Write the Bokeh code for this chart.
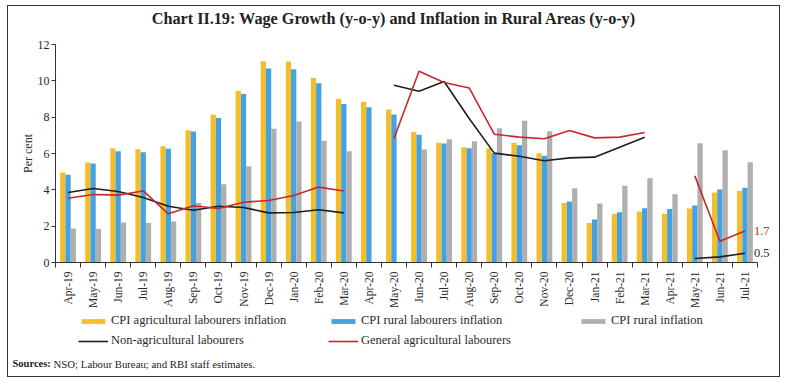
import numpy as np
from bokeh.plotting import figure
from bokeh.models import (Range1d, FixedTicker, ColumnDataSource, Legend, LegendItem, Label)
from bokeh.transform import dodge
from bokeh.embed import file_html
from bokeh.resources import INLINE

nan = np.nan
months = ["Apr-19", "May-19", "Jun-19", "Jul-19", "Aug-19", "Sep-19", "Oct-19", "Nov-19",
          "Dec-19", "Jan-20", "Feb-20", "Mar-20", "Apr-20", "May-20", "Jun-20", "Jul-20",
          "Aug-20", "Sep-20", "Oct-20", "Nov-20", "Dec-20", "Jan-21", "Feb-21", "Mar-21",
          "Apr-21", "May-21", "Jun-21", "Jul-21"]
cpi_agri_lab = [4.95, 5.50, 6.29, 6.24, 6.40, 7.28, 8.13, 9.45, 11.08, 11.06, 10.15, 9.01,
                8.83, 8.42, 7.19, 6.59, 6.35, 6.29, 6.59, 6.02, 3.27, 2.18, 2.68, 2.81,
                2.68, 2.97, 3.85, 3.93]
cpi_rural_lab = [4.83, 5.45, 6.13, 6.07, 6.26, 7.21, 7.96, 9.27, 10.68, 10.64, 9.87, 8.72,
                 8.55, 8.15, 7.03, 6.55, 6.29, 6.02, 6.46, 5.87, 3.36, 2.37, 2.77, 2.99,
                 2.95, 3.14, 4.02, 4.11]
cpi_rural = [1.87, 1.85, 2.20, 2.18, 2.26, 3.27, 4.31, 5.30, 7.36, 7.76, 6.70, 6.13,
             nan, nan, 6.22, 6.79, 6.68, 7.39, 7.80, 7.23, 4.09, 3.25, 4.22, 4.64,
             3.76, 6.57, 6.18, 5.52]
non_agri = [3.85, 4.07, 3.91, 3.58, 3.10, 2.88, 3.10, 3.03, 2.73, 2.75, 2.90, 2.73,
            nan, 9.76, 9.43, 9.96, 7.93, 6.02, 5.85, 5.60, 5.76, 5.80, 6.35, 6.90,
            nan, 0.22, 0.31, 0.51]
gen_agri = [3.54, 3.74, 3.71, 3.94, 2.68, 3.12, 2.97, 3.32, 3.41, 3.69, 4.15, 3.94,
            nan, 6.83, 10.53, 9.91, 9.61, 7.06, 6.90, 6.81, 7.27, 6.86, 6.90, 7.16,
            nan, 4.77, 1.17, 1.74]
y_ticks = [0, 2, 4, 6, 8, 10, 12]

YEL, BLU, GRY, RED, BLK = "#F4BE2B", "#45A2E2", "#AFAFAF", "#C8282C", "#1E1E1E"
FONT = "Liberation Serif"
TXT = "#2a2a2a"

N = len(months)
xs = [i + 0.5 for i in range(N)]
src = ColumnDataSource(dict(x=xs, al=cpi_agri_lab, rl=cpi_rural_lab, ru=cpi_rural,
                            na=non_agri, ga=gen_agri))

# layout geometry (pixels inside the bordered canvas)
W, H = 773, 372
PX_L, PX_R = 47, 749          # x = 0 and x = N
PY_T, PY_B = 38, 256          # y = 12 and y = 0 (from top)
sx = (PX_R - PX_L) / N
sy = (PY_B - PY_T) / 12.0
x_rng = Range1d(-PX_L / sx, N + (W - PX_R) / sx)
y_rng = Range1d(-(H - PY_B) / sy, 12 + PY_T / sy)

p = figure(width=W, height=H, x_range=x_rng, y_range=y_rng,
           output_backend="svg", toolbar_location=None, min_border=0)
p.styles = {"border": "1px solid #333", "margin": "5px 0 0 7px"}
p.title.visible = False
p.outline_line_color = None
p.xgrid.grid_line_color = None
p.ygrid.grid_line_color = None

bw = 0.21
r1 = p.vbar(x=dodge("x", -bw, range=p.x_range), top="al", width=bw, source=src,
            fill_color=YEL, line_color=None)
r2 = p.vbar(x="x", top="rl", width=bw, source=src, fill_color=BLU, line_color=None)
r3 = p.vbar(x=dodge("x", bw, range=p.x_range), top="ru", width=bw, source=src,
            fill_color=GRY, line_color=None)
r4 = p.line(x="x", y="na", source=src, line_color=BLK, line_width=1.6)
r5 = p.line(x="x", y="ga", source=src, line_color=RED, line_width=1.6)

xa = p.xaxis[0]
xa.fixed_location = 0
xa.bounds = (0, N)
xa.ticker = FixedTicker(ticks=xs, minor_ticks=list(range(N + 1)))
xa.major_label_overrides = {x: m for x, m in zip(xs, months)}
xa.major_label_orientation = np.pi / 2
xa.major_tick_out = 0
xa.major_tick_in = 0
xa.minor_tick_out = 5
xa.minor_tick_in = 0
xa.minor_tick_line_color = "#333"
xa.axis_line_color = "#333"
xa.major_label_text_font = FONT
xa.major_label_text_font_size = "11.5px"
xa.major_label_text_color = TXT
xa.major_label_standoff = 4

ya = p.yaxis[0]
ya.fixed_location = 0
ya.bounds = (0, 12)
ya.ticker = FixedTicker(ticks=y_ticks, minor_ticks=[])
ya.major_tick_out = 4
ya.major_tick_in = 0
ya.major_tick_line_color = "#333"
ya.axis_line_color = "#333"
ya.major_label_text_font = FONT
ya.major_label_text_font_size = "12px"
ya.major_label_text_color = TXT
ya.major_label_standoff = 2
ya.axis_label = "Per cent"
ya.axis_label_text_font = FONT
ya.axis_label_text_font_size = "12px"
ya.axis_label_text_font_style = "normal"
ya.axis_label_text_color = TXT
ya.axis_label_standoff = 0

# end-point data labels
p.add_layout(Label(x=xs[-1], y=gen_agri[-1], x_offset=9, text=f"{gen_agri[-1]:.1f}",
                   text_color=RED, text_font=FONT, text_font_size="12.5px",
                   text_baseline="middle"))
p.add_layout(Label(x=xs[-1], y=non_agri[-1], x_offset=9, text=f"{non_agri[-1]:.1f}",
                   text_color=TXT, text_font=FONT, text_font_size="12.5px",
                   text_baseline="middle"))

# title
p.add_layout(Label(x=385.5, y=H - 12, x_units="screen", y_units="screen",
                   text="Chart II.19: Wage Growth (y-o-y) and Inflation in Rural Areas (y-o-y)",
                   text_align="center", text_baseline="middle", text_font=FONT,
                   text_font_size="16.2px", text_font_style="bold", text_color="#222"))

legend = Legend(items=[
    LegendItem(label="CPI agricultural labourers inflation", renderers=[r1]),
    LegendItem(label="CPI rural labourers inflation", renderers=[r2]),
    LegendItem(label="CPI rural inflation", renderers=[r3]),
    LegendItem(label="Non-agricultural labourers", renderers=[r4]),
    LegendItem(label="General agricultural labourers", renderers=[r5]),
], location=(70, 30), orientation="horizontal", ncols=3)
legend.padding = 0
legend.margin = 0
legend.border_line_color = None
legend.background_fill_alpha = 0
legend.glyph_width = 30
legend.glyph_height = 6
legend.label_standoff = 3
legend.spacing = 5
legend.label_width = 212
legend.label_text_font = FONT
legend.label_text_font_size = "12.5px"
legend.label_text_color = TXT
p.add_layout(legend, "center")

# sources
p.add_layout(Label(x=4, y=15, x_units="screen", y_units="screen", text="Sources:",
                   text_baseline="middle", text_font=FONT, text_font_size="10.5px",
                   text_font_style="bold", text_color="#222"))
p.add_layout(Label(x=45, y=15, x_units="screen", y_units="screen",
                   text="NSO; Labour Bureau; and RBI staff estimates.",
                   text_baseline="middle", text_font=FONT, text_font_size="10.8px",
                   text_color="#222"))

open("out.html", "w").write(file_html(p, INLINE))
